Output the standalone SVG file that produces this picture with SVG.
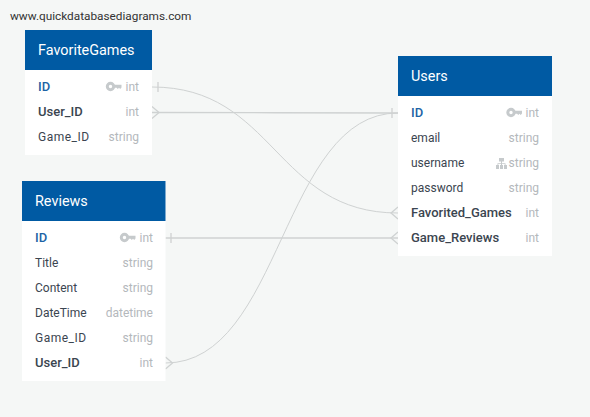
<svg xmlns="http://www.w3.org/2000/svg" width="590" height="417" viewBox="0 0 590 417">
<style>
text{font-family:"Roboto","Liberation Sans",Arial,sans-serif;font-size:12px;fill:#3b4550}
.wm{font-size:11.800px;fill:#333}
.head{fill:#005aa3}
.body{fill:#fff}
.title{font-size:14.400px;fill:#fff}
.b{font-size:13px;font-weight:500}
.pk{font-size:13px;fill:#1c63a5;font-weight:500}
.t{fill:#b4b8bc;text-anchor:end}
.c{fill:none;stroke:#cfd2d2;stroke-width:1}
.s{fill:none;stroke:#cfd2d2;stroke-width:1.300}
.i{fill:#c6cacc}
</style>
<defs>
<g id="key"><circle cx="4.500" cy="4.500" r="3.200" fill="none" stroke="#c6cacc" stroke-width="3"/><path class="i" d="M8 2.800h7.500v2.800l-1.300 1.400-1.200-1.200-1.200 1.200-1.200-1.200H8z"/></g>
<g id="tree"><path class="i" d="M3 0h5v3.600H6v1.600h3.500V7H11v4H8V7h.7V6H6v1h1v4H4V7h1V6H2.300V7H3v4H0V7h1.500V5.200H5V3.600H3z"/></g>
</defs>
<rect width="590" height="417" fill="#f5f7f6"/>
<text class="wm" x="10" y="20">www.quickdatabasediagrams.com</text>
<g id="connectors">
<path class="c" d="M152 87C275 87 275 213 398 213"/>
<path class="s" d="M152 112.500C275 112.500 275 113 398 113"/>
<path class="s" d="M165.500 238H398"/>
<path class="c" d="M165.500 363C282 363 282 113 398 113"/>
<path class="s" d="M158 82v10M171 233v10M392 108v10"/>
<path class="s" d="M152 106.500l7 6-7 6M165.500 357l7 6-7 6M398 207l-7 6 7 6M398 232l-7 6 7 6"/>
</g>
<g id="FavoriteGames">
<rect class="body" x="25" y="30" width="127" height="125"/>
<rect class="head" x="25" y="30" width="127" height="40"/>
<text class="title" x="38" y="55">FavoriteGames</text>
<text class="pk" x="38" y="91">ID</text><use href="#key" x="106" y="82"/><text class="t" x="139" y="91">int</text>
<text class="b" x="38" y="116">User_ID</text><text class="t" x="139" y="116">int</text>
<text x="38" y="141" textLength="51">Game_ID</text><text class="t" x="139" y="141">string</text>
</g>
<g id="Users">
<rect class="body" x="398" y="56" width="154" height="200"/>
<rect class="head" x="398" y="56" width="154" height="40"/>
<text class="title" x="411" y="81">Users</text>
<text class="pk" x="411" y="117">ID</text><use href="#key" x="506.500" y="108"/><text class="t" x="539" y="117">int</text>
<text x="411" y="142">email</text><text class="t" x="539" y="142">string</text>
<text x="411" y="167">username</text><use href="#tree" x="496" y="158"/><text class="t" x="539" y="167">string</text>
<text x="411" y="192">password</text><text class="t" x="539" y="192">string</text>
<text class="b" x="411" y="217">Favorited_Games</text><text class="t" x="539" y="217">int</text>
<text class="b" x="411" y="242">Game_Reviews</text><text class="t" x="539" y="242">int</text>
</g>
<g id="Reviews">
<rect class="body" x="22" y="181" width="143.500" height="200"/>
<rect class="head" x="22" y="181" width="143.500" height="40"/>
<text class="title" x="35" y="206">Reviews</text>
<text class="pk" x="35" y="242">ID</text><use href="#key" x="120" y="233"/><text class="t" x="153" y="242">int</text>
<text x="35" y="267">Title</text><text class="t" x="153" y="267">string</text>
<text x="35" y="292">Content</text><text class="t" x="153" y="292">string</text>
<text x="35" y="317">DateTime</text><text class="t" x="153" y="317">datetime</text>
<text x="35" y="342" textLength="51">Game_ID</text><text class="t" x="153" y="342">string</text>
<text class="b" x="35" y="367">User_ID</text><text class="t" x="153" y="367">int</text>
</g>
</svg>
